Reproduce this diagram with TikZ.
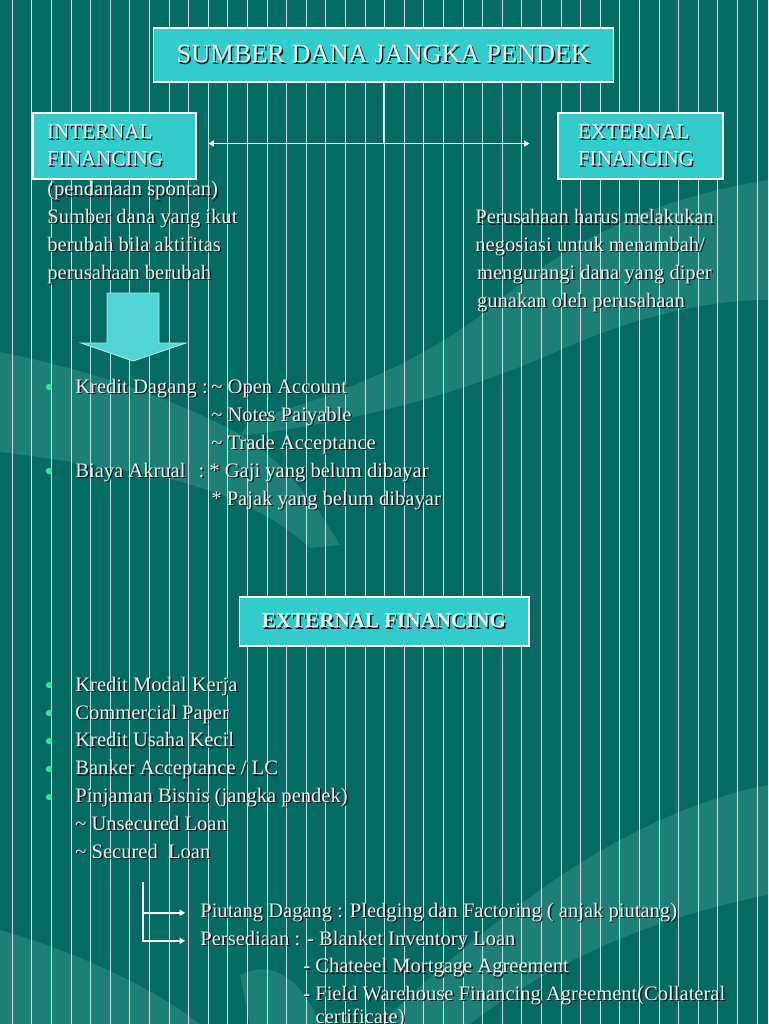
\documentclass[tikz,border=0pt]{standalone}
\usepackage{fontspec}
\setmainfont{Liberation Serif}
\usepackage{xcolor}
\usepackage{tikz}
\usetikzlibrary{arrows.meta,positioning,calc}
\definecolor{bgteal}{RGB}{4,106,99}
\definecolor{swoosh}{RGB}{40,136,128}
\definecolor{stripe}{RGB}{196,226,222}
\definecolor{boxcyan}{RGB}{51,204,204}
\definecolor{txtlight}{RGB}{234,238,236}
\definecolor{txtshadow}{RGB}{14,26,26}
\definecolor{dotgreen}{RGB}{40,235,150}
\newcommand{\shd}[1]{\makebox[0pt][l]{\hspace{0.8pt}\raisebox{-0.8pt}{\color{txtshadow}#1}}#1}
\tikzset{
  slidebox/.style={draw=white, line width=0.6pt, fill=boxcyan, text=txtlight},
  slidetxt/.style={text=txtlight, font=\fontsize{11.7}{15.8}\selectfont, inner sep=0pt, anchor=base west, align=left},
  link/.style={draw=white, line width=0.8pt},
}

\begin{document}
\begin{tikzpicture}[x=0.02cm, y=-0.02cm, >={Triangle[length=3pt,width=3.4pt]}]
  \fill[bgteal] (0,0) rectangle (768,1024);
  \useasboundingbox (0,0) rectangle (768,1024);
  % swooshes
  \begin{scope}[opacity=0.7]
    \fill[swoosh] (768,180) .. controls (640,200) and (560,250) .. (500,300)
       .. controls (440,350) and (360,390) .. (250,420) -- (240,436)
       .. controls (370,420) and (470,390) .. (560,350)
       .. controls (640,315) and (710,300) .. (768,300) -- cycle;
    \fill[swoosh] (0,352) .. controls (90,370) and (180,400) .. (250,440)
       .. controls (290,470) and (320,510) .. (340,545) -- (310,548)
       .. controls (270,510) and (200,480) .. (120,470)
       .. controls (70,462) and (30,455) .. (0,452) -- cycle;
    \fill[swoosh] (768,785) .. controls (690,800) and (610,840) .. (540,890)
       .. controls (470,940) and (420,985) .. (380,1024) -- (470,1024)
       .. controls (540,970) and (640,920) .. (768,895) -- cycle;
    \fill[swoosh] (0,930) .. controls (70,950) and (150,985) .. (200,1024) -- (0,1024) -- cycle;
    \fill[swoosh] (240,975) .. controls (270,960) and (300,975) .. (320,1024) -- (250,1024) -- cycle;
  \end{scope}
  % stripes
  \foreach \k in {0,...,38} \draw[stripe, line width=0.5pt] (12.3+19.6*\k,0) -- (12.3+19.6*\k,1024);

  % top chart
  \node[slidebox, minimum width=9.22cm, minimum height=1.08cm, font=\fontsize{15}{18}\selectfont] (title) at (383.5,55) {\shd{SUMBER DANA JANGKA PENDEK}};
  \node[slidebox, font=\fontsize{12}{15.4}\selectfont, align=left, text width=2.7cm, inner xsep=0.28cm, minimum height=1.32cm] (intl) at (114.5,146) {\shd{INTERNAL}\\\shd{FINANCING}};
  \node[slidebox, font=\fontsize{12}{15.4}\selectfont, align=left, text width=2.5cm, inner xsep=0.4cm, minimum height=1.32cm] (extl) at (640.5,146) {\shd{EXTERNAL}\\\shd{FINANCING}};
  \path (title.south) ++(0,61) coordinate (jn);
  \draw[link] (title.south) -- (jn);
  \draw[link, <->] ($(intl.east |- jn)+(12,0)$) -- ($(extl.west |- jn)+(-28,0)$);

  % multi-line texts sit on the baseline of their last line
  \node[slidetxt] (intdesc) at (47,279) {\shd{(pendanaan spontan)}\\\shd{Sumber dana yang ikut}\\\shd{berubah bila aktifitas}\\\shd{perusahaan berubah}};
  \node[slidetxt] (extdesc) at (475,307) {\shd{Perusahaan harus melakukan}\\\shd{negosiasi untuk menambah/}\\\hspace{1pt}\shd{mengurangi dana yang diper}\\\hspace{1pt}\shd{gunakan oleh perusahaan}};

  % block arrow
  \draw[fill=boxcyan!85!white, draw=white!60!boxcyan, line width=0.5pt] (107,293) -- (159,293) -- (159,343) -- (186,343) -- (133,361) -- (81,343) -- (107,343) -- cycle;

  % internal items
  \node[slidetxt] (kd) at (75,393) {\shd{\makebox[2.62cm][l]{Kredit Dagang \hfill:}\ \textasciitilde{} Open Account}};
  \node[slidetxt] (kdsub) at (211,449) {\shd{\textasciitilde{} Notes Paiyable}\\\shd{\textasciitilde{} Trade Acceptance}};
  \node[slidetxt] (ba) at (75,477) {\shd{\makebox[2.58cm][l]{Biaya Akrual\hfill:}\ * Gaji yang belum dibayar}};
  \node[slidetxt] (basub) at (211,505) {\shd{* Pajak yang belum dibayar}};

  % external items
  \node[slidebox, minimum width=5.8cm, minimum height=0.98cm, font=\bfseries\fontsize{12}{14}\selectfont] (extfin) at (384,621.5) {\shd{EXTERNAL FINANCING}};
  \node[slidetxt] (list) at (75,858) {\shd{Kredit Modal Kerja}\\\shd{Commercial Paper}\\\shd{Kredit Usaha Kecil}\\\shd{Banker Acceptance / LC}\\\shd{Pinjaman Bisnis (jangka pendek)}\\\shd{\textasciitilde{} Unsecured Loan}\\\shd{\textasciitilde{} Secured\ \ Loan}};
  \foreach \y in {387,471,685,713,741,769,797} \fill[dotgreen] (49,\y) circle[radius=1.8pt];

  % secured loan branches
  \coordinate (brk) at (143,882);
  \node[slidetxt] (piut) at (200,917) {\shd{Piutang Dagang : Pledging dan Factoring ( anjak piutang)}};
  \node[slidetxt] (pers) at (200,945) {\shd{Persediaan : - Blanket Inventory Loan}};
  \node[slidetxt] (perssub) at (303,1023) {\shd{- Chateeel Mortgage Agreement}\\\shd{- Field Warehouse Financing Agreement(Collateral}\\[-3pt]\hspace{7pt}\shd{certificate)}};
  \draw[link, ->] (brk) |- ($(pers.west)+(-15,0)$);
  \draw[link, ->] (brk |- piut.west) -- ($(piut.west)+(-15,0)$);
\end{tikzpicture}
\end{document}
